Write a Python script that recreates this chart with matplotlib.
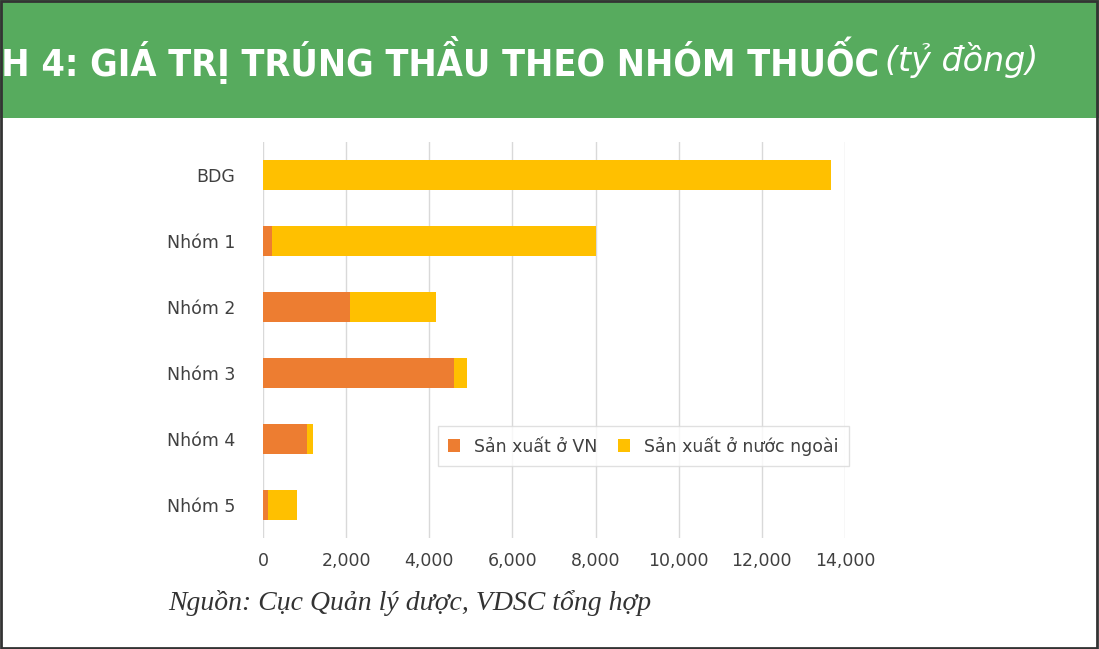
import numpy as np
import matplotlib.pyplot as plt
from matplotlib.patches import Rectangle

categories = ["BDG", "Nhóm 1", "Nhóm 2", "Nhóm 3", "Nhóm 4", "Nhóm 5"]
vn_values = [0, 216, 2090, 4595, 1058, 120]
total_values = [13660, 8000, 4160, 4905, 1200, 818]
foreign_values = [t - v for t, v in zip(total_values, vn_values)]
xticks = [0, 2000, 4000, 6000, 8000, 10000, 12000, 14000]

fig = plt.figure(figsize=(10.99, 6.49), dpi=100)

# green header and frame
fig.patches.append(Rectangle((0, 1 - 118 / 649), 1, 118 / 649, transform=fig.transFigure,
                             facecolor="#57AB5E", edgecolor="none", zorder=0))
fig.patches.append(Rectangle((0.001, 0.002), 0.997, 0.996, transform=fig.transFigure,
                             facecolor="none", edgecolor="#333333", lw=2, zorder=5))
fig.text(0.80, 1 - 60 / 649, "HÌNH 4: GIÁ TRỊ TRÚNG THẦU THEO NHÓM THUỐC", color="white",
         fontsize=27, fontweight="bold", fontstretch="condensed", family="DejaVu Sans",
         ha="right", va="center")
fig.text(0.805, 1 - 60 / 649, "(tỷ đồng)", color="white", fontsize=24, style="italic",
         family="DejaVu Sans", ha="left", va="center")

ax = fig.add_axes([263 / 1099, 1 - 538 / 649, 582 / 1099, 396 / 649])
y = np.arange(len(categories))
ax.barh(y, vn_values, height=0.45, color="#ED7D31", label="Sản xuất ở VN", zorder=3)
ax.barh(y, foreign_values, left=vn_values, height=0.45, color="#FFC000",
        label="Sản xuất ở nước ngoài", zorder=3)
ax.set_ylim(5.5, -0.5)
ax.set_xlim(0, 14000)
ax.set_xticks(xticks)
ax.set_xticklabels([f"{v:,}" for v in xticks])
ax.set_yticks(y)
ax.set_yticklabels(categories)
ax.tick_params(length=0, labelsize=12.5, colors="#404040", pad=10)
ax.tick_params(axis="y", pad=20)
ax.grid(axis="x", color="#d9d9d9", lw=1, zorder=0)
for s in ax.spines.values():
    s.set_visible(False)

leg = ax.legend(loc="lower left", bbox_to_anchor=(0.285, 0.16), ncol=2, fontsize=12.5,
                frameon=True, fancybox=False, edgecolor="#d9d9d9", handlelength=0.7,
                handleheight=0.7, columnspacing=1.2, borderpad=0.6)
for t in leg.get_texts():
    t.set_color("#404040")

fig.text(168 / 1099, 1 - 603 / 649, "Nguồn: Cục Quản lý dược, VDSC tổng hợp",
         family="Liberation Serif", style="italic", fontsize=20, color="#333333",
         ha="left", va="center")

fig.savefig("out.png", dpi=100)
